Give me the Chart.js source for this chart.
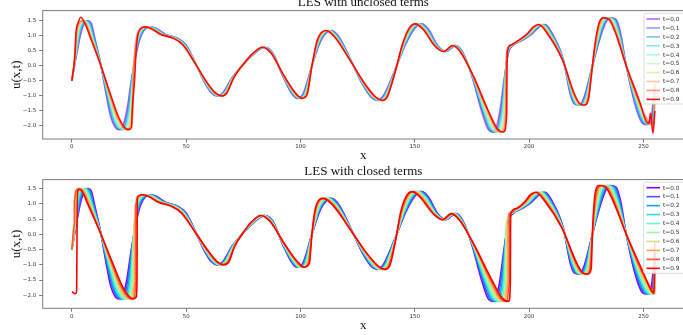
<!DOCTYPE html>
<html><head><meta charset="utf-8">
<script src="https://cdn.jsdelivr.net/npm/chart.js@4.4.1/dist/chart.umd.min.js"></script>
<style>
html,body{margin:0;padding:0;background:#fff;overflow:hidden;width:683px;height:335px;}
.box{position:absolute;left:0;width:690px;}
#topBox{top:-5px;height:170px;}
#botBox{top:164px;height:172px;}
</style></head><body>
<div id="topBox" class="box"><canvas id="cTop"></canvas></div>
<div id="botBox" class="box"><canvas id="cBot"></canvas></div>
<script>
const TIME_LABELS = ['t=0.0','t=0.1','t=0.2','t=0.3','t=0.4','t=0.5','t=0.6','t=0.7','t=0.8','t=0.9'];
const X_TICKS = [0,50,100,150,200,250];
const Y_TICKS = [-2.0,-1.5,-1.0,-0.5,0.0,0.5,1.0,1.5];

// t=0.0 (same initial state in both panels)
const X_T00 = [0,2,4,5.5,7,8.5,10,12.5,15,17,
19,20.5,22,24,26,28,30,32,34.5,37,
41,46,50,54,58,61,63.5,66,70,75,
80,84.5,88,92,96,98.5,101,105,109,113.5,
117,122,127,131,133.5,136,141,146,150,153,
156,160,163.5,168,171,175,179,182,184.5,187,
189,191,193,197,201,204.5,207,210,215,218,
220,222,224,227,230,233,235.5,238,240,242.5,
246,249,251,253,255];
const U_T00 = [-0.5,0.35,1.1,1.42,1.5,1.42,0.95,0.1,-0.95,-1.7,
-2.05,-2.12,-2.05,-1.5,-0.5,0.35,0.95,1.22,1.3,1.25,
1.05,0.93,0.7,0.1,-0.55,-0.9,-1.0,-0.9,-0.4,0.05,
0.42,0.62,0.42,-0.3,-0.9,-1.08,-0.95,0,0.85,1.18,
0.95,0.2,-0.6,-1.05,-1.15,-1.02,-0.2,0.72,1.25,1.4,
1.22,0.68,0.48,0.68,0.45,-0.35,-1.45,-2.1,-2.2,-1.6,
-0.5,0.45,0.68,0.85,1.05,1.3,1.38,1.1,0.2,-0.95,
-1.28,-1.3,-1.05,-0.2,0.65,1.35,1.6,1.55,1.1,0,
-1.2,-1.85,-1.95,-1.9,-0.6];

// ---- top panel: LES with unclosed terms (x positions of the same states at later t)
const TOP_X_T01 = [0,1.9,3.8,5.2,6.7,8.2,9.8,12.5,15.2,17.4,
19.5,21.0,22.5,24.3,26.1,27.9,29.8,31.7,34.2,36.7,
40.8,45.8,49.8,54.0,58.1,61.2,63.7,66.2,70.1,75.0,
79.9,84.4,87.9,92.1,96.2,98.7,101.2,105,108.8,113.2,
116.8,122.0,127.1,131.2,133.8,136.2,141.0,145.8,149.7,152.7,
155.7,159.8,163.4,167.8,170.9,175.1,179.3,182.5,185.0,187.4,
189.1,190.9,192.8,196.8,200.8,204.2,206.7,209.8,215.0,218.2,
220.3,222.3,224.2,227.0,229.9,232.7,235.1,237.7,239.8,242.5,
246.3,249.4,251.4,253.4,255];
const TOP_X_T02 = [0,1.8,3.5,4.9,6.3,7.9,9.6,12.5,15.4,17.8,
19.9,21.4,22.9,24.7,26.2,27.8,29.6,31.5,33.9,36.4,
40.5,45.6,49.7,54.0,58.2,61.4,63.9,66.4,70.2,75.0,
79.8,84.2,87.8,92.1,96.4,99.0,101.4,105,108.6,113.0,
116.6,121.9,127.3,131.5,134.0,136.5,141.1,145.7,149.4,152.4,
155.5,159.7,163.3,167.7,170.8,175.2,179.6,182.9,185.5,187.7,
189.2,190.8,192.7,196.6,200.5,203.9,206.4,209.5,214.9,218.4,
220.6,222.6,224.5,227.1,229.7,232.4,234.8,237.3,239.5,242.5,
246.5,249.8,251.9,253.8,255];
const TOP_X_T03 = [0,1.8,3.3,4.6,6.0,7.6,9.4,12.4,15.6,18.1,
20.4,21.9,23.4,25.0,26.3,27.8,29.4,31.2,33.6,36.2,
40.3,45.4,49.5,53.9,58.4,61.6,64.2,66.6,70.3,75.0,
79.7,84.1,87.7,92.2,96.6,99.2,101.6,105,108.4,112.7,
116.4,121.9,127.4,131.7,134.3,136.7,141.1,145.5,149.2,152.1,
155.2,159.5,163.2,167.5,170.7,175.2,180.0,183.4,186.0,188.1,
189.3,190.7,192.5,196.4,200.3,203.6,206.1,209.3,214.9,218.6,
220.9,222.9,224.7,227.1,229.6,232.1,234.4,237.0,239.3,242.5,
246.8,250.2,252.3,254.3,255];
const TOP_X_T04 = [0,1.7,3.0,4.2,5.7,7.2,9.2,12.4,15.8,18.5,
20.8,22.4,23.8,25.3,26.4,27.7,29.2,30.9,33.3,35.9,
40.1,45.2,49.4,53.9,58.5,61.8,64.4,66.8,70.4,75.0,
79.6,83.9,87.6,92.3,96.8,99.5,101.8,105,108.2,112.5,
116.2,121.8,127.5,131.9,134.5,136.9,141.2,145.4,148.9,151.8,
154.9,159.4,163.1,167.4,170.6,175.3,180.3,183.9,186.5,188.4,
189.4,190.6,192.4,196.2,200.1,203.3,205.8,209.0,214.8,218.8,
221.1,223.2,224.9,227.2,229.4,231.8,234.1,236.6,239.0,242.5,
247.1,250.6,252.7,254.6,255];
const TOP_X_T05 = [0,1.6,2.8,3.9,5.3,6.9,8.9,12.4,16.1,18.9,
21.3,22.9,24.3,25.7,26.6,27.6,28.9,30.6,33.1,35.6,
39.8,45.0,49.2,53.9,58.6,62.0,64.6,67.0,70.4,74.9,
79.5,83.8,87.5,92.3,97.0,99.7,102.1,105,108.1,112.2,
115.9,121.8,127.7,132.2,134.8,137.1,141.2,145.2,148.6,151.4,
154.6,159.2,163.0,167.2,170.5,175.4,180.6,184.3,186.9,188.8,
189.6,190.5,192.2,196.1,199.8,203.1,205.5,208.8,214.8,219.1,
221.4,223.4,225.2,227.2,229.3,231.5,233.7,236.3,238.8,242.5,
247.3,251.1,253.2,254.6,255];
const TOP_X_T06 = [0,1.5,2.5,3.6,5.0,6.6,8.7,12.4,16.3,19.3,
21.7,23.3,24.7,26.0,26.7,27.5,28.7,30.4,32.8,35.3,
39.6,44.8,49.1,53.9,58.7,62.2,64.8,67.2,70.5,74.9,
79.4,83.7,87.4,92.4,97.2,99.9,102.3,105,107.9,111.9,
115.7,121.7,127.8,132.4,135.0,137.4,141.3,145.0,148.3,151.1,
154.4,159.1,162.9,167.1,170.4,175.5,180.9,184.8,187.4,189.1,
189.7,190.4,192.1,195.9,199.6,202.8,205.2,208.5,214.7,219.3,
221.7,223.7,225.4,227.3,229.1,231.2,233.4,235.9,238.5,242.5,
247.6,251.5,253.6,254.6,255];
const TOP_X_T07 = [0,1.5,2.3,3.3,4.7,6.3,8.5,12.3,16.5,19.6,
22.2,23.8,25.2,26.3,26.8,27.5,28.5,30.1,32.5,35.1,
39.4,44.6,48.9,53.8,58.9,62.4,65.1,67.4,70.6,74.9,
79.3,83.5,87.3,92.5,97.4,100.2,102.5,105,107.7,111.7,
115.5,121.7,127.9,132.6,135.3,137.6,141.3,144.9,148.1,150.8,
154.1,158.9,162.8,166.9,170.3,175.5,181.3,185.3,187.9,189.5,
189.8,190.3,191.9,195.7,199.4,202.5,204.9,208.3,214.7,219.5,
222.0,224.0,225.6,227.3,229.0,230.9,233.0,235.6,238.3,242.5,
247.9,251.9,254.0,254.6,255];
const TOP_X_T08 = [0,1.4,2.0,3.0,4.3,6.0,8.3,12.3,16.7,20.0,
22.6,24.3,25.6,26.7,26.9,27.4,28.3,29.8,32.2,34.8,
39.1,44.3,48.8,53.8,59.0,62.6,65.3,67.6,70.7,74.9,
79.3,83.4,87.3,92.5,97.6,100.4,102.7,105,107.5,111.4,
115.3,121.6,128.1,132.9,135.5,137.8,141.4,144.7,147.8,150.5,
153.8,158.8,162.6,166.8,170.2,175.6,181.6,185.7,188.4,189.8,
189.9,190.2,191.8,195.5,199.1,202.2,204.5,208.0,214.6,219.7,
222.3,224.3,225.9,227.4,228.8,230.6,232.7,235.2,238.0,242.5,
248.1,252.3,254.3,254.6,255];
const TOP_X_T09 = [0,1.3,1.8,2.7,3.9,5.7,8.1,12.3,16.9,20.4,
23.1,24.7,26.1,26.4,27.4,28.0,28.7,29.8,31.9,34.5,
38.9,44.1,48.6,53.8,59.1,62.8,65.5,67.8,70.8,74.9,
79.2,83.3,87.2,92.6,97.8,100.7,102.9,105,107.3,111.1,
115.1,121.6,128.2,133.1,135.8,138.0,141.4,144.6,147.5,150.2,
153.6,158.6,162.5,166.6,170.1,175.7,181.9,186.2,188.9,190.2,
190.3,190.5,191.6,195.3,198.9,201.9,204.2,207.8,214.6,219.9,
222.6,224.6,226.1,227.4,228.7,230.3,232.3,234.9,237.8,242.5,
248.4,251.2,252.4,253.1,254.2,255];
const TOP_U_T09 = [-0.5,0.35,1.1,1.42,1.62,1.42,0.95,0.1,-0.95,-1.7,
-2.05,-2.12,-2.05,-1.5,-0.5,0.35,0.95,1.22,1.3,1.25,
1.05,0.93,0.7,0.1,-0.55,-0.9,-1.0,-0.9,-0.4,0.05,
0.42,0.62,0.42,-0.3,-0.9,-1.08,-0.95,0,0.85,1.18,
0.95,0.2,-0.6,-1.05,-1.15,-1.02,-0.2,0.72,1.25,1.4,
1.22,0.68,0.48,0.68,0.45,-0.35,-1.45,-2.1,-2.2,-1.6,
-0.5,0.45,0.68,0.85,1.05,1.3,1.38,1.1,0.2,-0.95,
-1.28,-1.3,-1.05,-0.2,0.65,1.35,1.6,1.55,1.1,0,
-1.2,-1.85,-1.92,-1.58,-2.24,-1.5];

// ---- bottom panel: LES with closed terms
const BOT_X_T01 = [0,1.9,3.6,5.0,6.5,8.0,9.7,12.5,15.3,17.6,
19.7,21.2,22.7,24.5,26.2,27.9,29.7,31.6,34.1,36.6,
40.7,45.7,49.8,54.0,58.2,61.3,63.8,66.3,70.1,75.0,
79.9,84.3,87.9,92.1,96.3,98.9,101.3,105,108.7,113.1,
116.7,121.9,127.2,131.4,133.9,136.3,141.1,145.8,149.6,152.5,
155.6,159.8,163.3,167.8,170.9,175.1,179.5,182.7,185.2,187.5,
189.2,190.9,192.8,196.7,200.7,204.1,206.5,209.6,214.9,218.3,
220.4,222.4,224.4,227.1,229.8,232.6,235.0,237.5,239.6,242.5,
246.4,249.6,251.7,253.6,255];
const BOT_X_T02 = [0,1.8,3.3,4.6,6.0,7.6,9.4,12.4,15.6,18.1,
20.4,21.9,23.4,25.0,26.3,27.8,29.4,31.2,33.6,36.2,
40.3,45.4,49.5,53.9,58.4,61.6,64.2,66.6,70.3,75.0,
79.7,84.1,87.7,92.2,96.6,99.2,101.6,105,108.4,112.7,
116.4,121.9,127.4,131.7,134.3,136.7,141.1,145.5,149.2,152.1,
155.2,159.5,163.2,167.5,170.7,175.2,180.0,183.4,186.0,188.1,
189.3,190.7,192.5,196.4,200.3,203.6,206.1,209.3,214.9,218.6,
220.9,222.9,224.7,227.1,229.6,232.1,234.4,237.0,239.3,242.5,
246.8,250.2,252.3,254.2,255];
const BOT_X_T03 = [0,1.6,2.9,4.1,5.5,7.1,9.0,12.4,16.0,18.7,
21.0,22.6,24.0,25.5,26.5,27.6,29.0,30.8,33.2,35.7,
40.0,45.1,49.3,53.9,58.5,61.9,64.5,66.9,70.4,74.9,
79.6,83.9,87.6,92.3,96.9,99.6,102.0,105,108.2,112.3,
116.0,121.8,127.6,132.1,134.6,137.0,141.2,145.3,148.7,151.6,
154.8,159.3,163.0,167.3,170.6,175.4,180.4,184.1,186.7,188.6,
189.5,190.6,192.3,196.2,200.0,203.2,205.6,208.9,214.8,219.0,
221.3,223.3,225.1,227.2,229.4,231.7,233.9,236.5,238.9,242.5,
247.2,250.9,253.0,254.6,255];
const BOT_X_T04 = [0,1.5,2.5,3.6,5.0,6.6,8.7,12.4,16.3,19.3,
21.7,23.3,24.7,26.0,26.7,27.5,28.7,30.4,32.8,35.3,
39.6,44.8,49.1,53.9,58.7,62.2,64.8,67.2,70.5,74.9,
79.4,83.7,87.4,92.4,97.2,99.9,102.3,105,107.9,111.9,
115.7,121.7,127.8,132.4,135.0,137.4,141.3,145.0,148.3,151.1,
154.4,159.1,162.9,167.1,170.4,175.5,180.9,184.8,187.4,189.1,
189.7,190.4,192.1,195.9,199.6,202.8,205.2,208.5,214.7,219.3,
221.7,223.7,225.4,227.3,229.1,231.2,233.4,235.9,238.5,242.5,
247.6,251.5,253.6,254.7,255];
const BOT_X_T05 = [0,1.4,2.2,3.1,4.5,6.1,8.4,12.3,16.6,19.8,
22.4,24.0,25.4,26.5,26.8,27.4,28.4,30.0,32.3,34.9,
39.3,44.5,48.8,53.8,58.9,62.5,65.2,67.5,70.7,74.9,
79.3,83.5,87.3,92.5,97.5,100.3,102.6,105,107.6,111.5,
115.4,121.7,128.0,132.8,135.4,137.7,141.3,144.8,147.9,150.7,
154.0,158.9,162.7,166.9,170.3,175.6,181.4,185.5,188.2,189.7,
189.8,190.3,191.9,195.6,199.3,202.3,204.7,208.2,214.7,219.6,
222.1,224.2,225.8,227.3,228.9,230.8,232.8,235.4,238.2,242.5,
248.0,252.1,254.3,254.8,255];
const BOT_X_T06 = [0,1.3,1.8,2.7,4.0,5.7,8.1,12.3,16.9,20.4,
23.1,24.7,26.1,27.0,27.0,27.3,28.1,29.6,31.9,34.5,
38.9,44.1,48.6,53.8,59.1,62.8,65.5,67.8,70.8,74.9,
79.2,83.3,87.2,92.6,97.8,100.7,102.9,105,107.3,111.1,
115.1,121.6,128.2,133.1,135.8,138.0,141.4,144.6,147.5,150.2,
153.6,158.6,162.5,166.6,170.1,175.7,181.9,186.2,188.9,190.2,
190.2,190.2,191.6,195.3,198.9,201.9,204.2,207.8,214.6,219.9,
222.6,224.6,226.1,227.4,228.7,230.3,232.3,234.9,237.8,242.5,
248.4,252.7,254.6,254.8,255];
const BOT_X_T07 = [0,1.2,1.4,2.2,3.5,5.2,7.8,12.3,17.2,21.0,
23.8,25.4,26.8,27.5,27.5,27.5,27.8,29.2,31.5,34.1,
38.6,43.8,48.4,53.8,59.3,63.1,65.8,68.1,70.9,74.9,
79.0,83.1,87.0,92.7,98.1,101.0,103.2,105,107.0,110.7,
114.8,121.5,128.4,133.5,136.2,138.4,141.5,144.3,147.1,149.7,
153.2,158.4,162.4,166.4,170.0,175.8,182.4,186.9,189.6,190.7,
190.7,190.7,191.4,195.0,198.6,201.5,203.8,207.4,214.5,220.2,
223.0,225.0,226.5,227.5,228.5,229.9,231.8,234.4,237.4,242.5,
248.8,253.3,254.6,254.8,255];
const BOT_X_T08 = [0,1.1,1.1,1.7,3.0,4.7,7.5,12.2,17.5,21.5,
24.5,26.2,27.5,28.0,28.0,28.0,28.0,28.7,31.0,33.7,
38.2,43.5,48.1,53.7,59.5,63.4,66.2,68.4,71.1,74.9,
78.9,82.8,86.9,92.8,98.4,101.4,103.5,105,106.7,110.4,
114.5,121.5,128.6,133.8,136.6,138.7,141.5,144.1,146.7,149.3,
152.7,158.2,162.2,166.2,169.8,175.9,182.9,187.6,190.4,191.3,
191.3,191.3,191.3,194.7,198.2,201.0,203.3,207.1,214.5,220.5,
223.4,225.5,226.8,227.5,228.3,229.4,231.2,233.9,237.1,242.5,
249.2,253.9,254.6,254.8,255];
const BOT_X_T09 = [0,1.6,2.1,2.3,2.6,3.3,4.3,7.2,12.2,17.9,
22.1,25.2,26.9,28.2,28.5,28.55,28.6,28.65,28.7,30.6,
33.3,37.9,43.2,47.9,53.7,59.7,63.7,66.5,68.7,71.2,
74.9,78.7,82.6,86.7,92.9,98.7,101.7,103.9,105,106.5,
110.0,114.2,121.4,128.8,134.2,137.0,139.1,141.6,143.8,146.3,
148.8,152.3,158.0,162.1,166.0,169.7,176.0,183.4,188.3,191.1,
191.8,191.85,191.9,192.0,194.5,197.9,200.6,202.9,206.7,214.4,
220.9,223.8,225.9,227.2,227.6,228.1,228.9,230.7,233.4,236.7,
242.5,249.6,253.5,254.6,255];
const BOT_U_T09 = [-1.88,-1.95,-1.85,0.5,1.42,1.47,1.42,0.95,0.1,-0.95,
-1.7,-2.05,-2.12,-2.05,-1.5,-0.5,0.35,0.95,1.22,1.3,
1.25,1.05,0.93,0.7,0.1,-0.55,-0.9,-1.0,-0.9,-0.4,
0.05,0.42,0.62,0.42,-0.3,-0.9,-1.08,-0.95,0,0.85,
1.18,0.95,0.2,-0.6,-1.05,-1.15,-1.02,-0.2,0.72,1.25,
1.4,1.22,0.68,0.48,0.68,0.45,-0.35,-1.45,-2.1,-2.2,
-1.6,-0.5,0.45,0.68,0.85,1.05,1.3,1.38,1.1,0.2,
-0.95,-1.28,-1.3,-1.1,-0.2,0.65,1.35,1.6,1.55,1.1,
0,-1.2,-1.85,-1.93,-0.2];

// ---- styling
const RAINBOW = ['#8000ff','#4757fb','#0ea4f0','#2bdddd','#63fbc3','#9cfba4','#d5dd80','#ffa457','#ff572c','#ff0000'];
function withAlpha(hex, a) {
  const r = parseInt(hex.slice(1,3),16), g = parseInt(hex.slice(3,5),16), b = parseInt(hex.slice(5,7),16);
  return 'rgba(' + r + ',' + g + ',' + b + ',' + a + ')';
}
const TOP_COLORS = RAINBOW.map((c,i) => withAlpha(c, i === 9 ? 0.95 : 0.6));
const BOT_COLORS = RAINBOW.slice();

const framePlugin = {
  id: 'frame',
  afterDatasetsDraw(chart) {
    const {ctx, chartArea: a} = chart;
    ctx.save();
    ctx.strokeStyle = '#7a7a7a';
    ctx.lineWidth = 1;
    ctx.strokeRect(a.left, a.top, a.right - a.left, a.bottom - a.top);
    ctx.restore();
  }
};
const boxLegend = {
  id: 'boxLegend',
  afterDraw(chart, args, o) {
    const ctx = chart.ctx;
    ctx.save();
    const r = 2;
    ctx.beginPath();
    ctx.moveTo(o.bx + r, o.by);
    ctx.lineTo(o.bx + o.bw - r, o.by);
    ctx.arcTo(o.bx + o.bw, o.by, o.bx + o.bw, o.by + r, r);
    ctx.lineTo(o.bx + o.bw, o.by + o.bh - r);
    ctx.arcTo(o.bx + o.bw, o.by + o.bh, o.bx + o.bw - r, o.by + o.bh, r);
    ctx.lineTo(o.bx + r, o.by + o.bh);
    ctx.arcTo(o.bx, o.by + o.bh, o.bx, o.by + o.bh - r, r);
    ctx.lineTo(o.bx, o.by + r);
    ctx.arcTo(o.bx, o.by, o.bx + r, o.by, r);
    ctx.closePath();
    ctx.fillStyle = 'rgba(255,255,255,0.85)';
    ctx.fill();
    ctx.strokeStyle = '#d4d4d4';
    ctx.lineWidth = 0.8;
    ctx.stroke();
    ctx.font = '5.8px "DejaVu Sans"';
    ctx.textBaseline = 'middle';
    ctx.textAlign = 'left';
    chart.data.datasets.forEach((ds, i) => {
      const y = o.y0 + i * o.step;
      ctx.strokeStyle = ds.borderColor;
      ctx.lineWidth = 1.6;
      ctx.beginPath();
      ctx.moveTo(o.lx0, y);
      ctx.lineTo(o.lx1, y);
      ctx.stroke();
      ctx.fillStyle = '#333';
      ctx.fillText(ds.label, o.tx, y + 0.3);
    });
    ctx.restore();
  }
};

function buildChart(canvasId, titleText, series, colors, yMin, yMax, geo) {
  const datasets = series.map((s, i) => ({
    label: TIME_LABELS[i],
    data: s.x.map((xv, j) => ({x: xv, y: s.y[j]})),
    borderColor: colors[i],
    backgroundColor: colors[i],
    borderWidth: 1.6,
    pointRadius: 0,
    fill: false,
    order: series.length - 1 - i,
    cubicInterpolationMode: 'monotone'
  }));
  return new Chart(document.getElementById(canvasId), {
    type: 'line',
    data: {datasets},
    options: {
      responsive: true, maintainAspectRatio: false, animation: false,
      devicePixelRatio: 1, events: [],
      layout: {padding: {left: 0, right: 6, top: 0, bottom: 0}},
      plugins: {
        legend: {display: false},
        tooltip: {enabled: false},
        title: {display: true, text: titleText, fullSize: false, color: '#111',
          font: {family: 'Liberation Serif', size: 13, weight: 'normal'},
          padding: {top: 0, bottom: 0}},
        boxLegend: geo.legend
      },
      scales: {
        x: {
          type: 'linear', min: -12.75, max: 267.75,
          afterBuildTicks: s => { s.ticks = X_TICKS.map(v => ({value: v})); },
          afterFit: s => { s.height = geo.xh; },
          ticks: {color: '#333', font: {family: 'DejaVu Sans', size: 5.5}, padding: 1,
            maxRotation: 0, autoSkip: false, callback: v => String(v)},
          grid: {drawOnChartArea: false, drawTicks: true, tickLength: 3.5, color: '#555', lineWidth: 0.8},
          border: {display: false},
          title: {display: true, text: 'x', color: '#111',
            font: {family: 'Liberation Serif', size: 13}, padding: {top: 0, bottom: geo.xpb}}
        },
        y: {
          type: 'linear', min: yMin, max: yMax,
          afterBuildTicks: s => { s.ticks = Y_TICKS.map(v => ({value: v})); },
          afterFit: s => { s.width = 42.7; },
          ticks: {color: '#333', font: {family: 'DejaVu Sans', size: 5.5}, padding: 3,
            autoSkip: false,
            callback: v => (v < 0 ? '\u2212' + Math.abs(v).toFixed(1) : v.toFixed(1))},
          grid: {drawOnChartArea: false, drawTicks: true, tickLength: 3.5, color: '#555', lineWidth: 0.8},
          border: {display: false},
          title: {display: true, text: 'u(x,t)', color: '#111',
            font: {family: 'Liberation Serif', size: 13}, padding: {top: 8.5, bottom: 0}}
        }
      }
    },
    plugins: [framePlugin, boxLegend]
  });
}

const topSeries = [
  {x: X_T00, y: U_T00}, {x: TOP_X_T01, y: U_T00}, {x: TOP_X_T02, y: U_T00},
  {x: TOP_X_T03, y: U_T00}, {x: TOP_X_T04, y: U_T00}, {x: TOP_X_T05, y: U_T00},
  {x: TOP_X_T06, y: U_T00}, {x: TOP_X_T07, y: U_T00}, {x: TOP_X_T08, y: U_T00},
  {x: TOP_X_T09, y: TOP_U_T09}
];
const botSeries = [
  {x: X_T00, y: U_T00}, {x: BOT_X_T01, y: U_T00}, {x: BOT_X_T02, y: U_T00},
  {x: BOT_X_T03, y: U_T00}, {x: BOT_X_T04, y: U_T00}, {x: BOT_X_T05, y: U_T00},
  {x: BOT_X_T06, y: U_T00}, {x: BOT_X_T07, y: U_T00}, {x: BOT_X_T08, y: U_T00},
  {x: BOT_X_T09, y: BOT_U_T09}
];

buildChart('cTop', 'LES with unclosed terms', topSeries, TOP_COLORS, -2.433, 1.843, {
  xh: 26, xpb: 1.2,
  legend: {bx: 644, by: 18.3, bw: 50, bh: 90.7, y0: 24.0, step: 8.93, lx0: 646.5, lx1: 660, tx: 663}
});
buildChart('cBot', 'LES with closed terms', botSeries, BOT_COLORS, -2.426, 1.795, {
  xh: 27.7, xpb: 2.5,
  legend: {bx: 643.5, by: 18.3, bw: 50, bh: 91, y0: 23.7, step: 8.96, lx0: 646.5, lx1: 660, tx: 663}
});
</script>
</body></html>
